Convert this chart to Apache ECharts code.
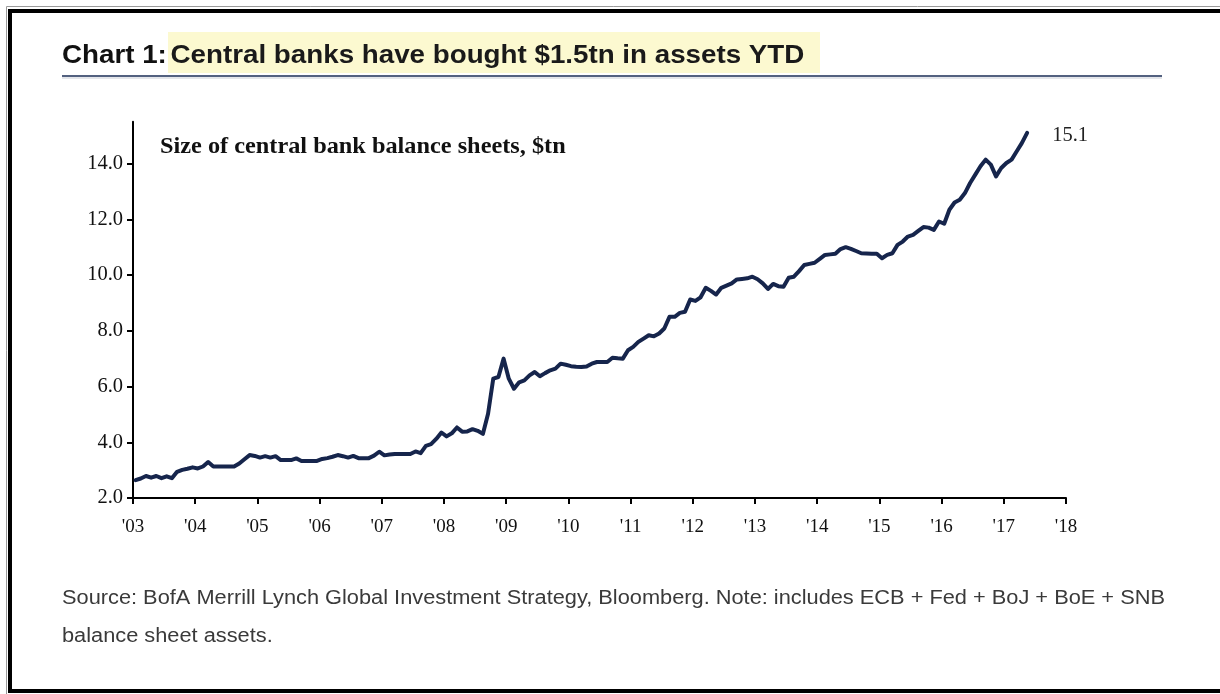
<!DOCTYPE html>
<html>
<head>
<meta charset="utf-8">
<script src="https://cdn.jsdelivr.net/npm/echarts@6/dist/echarts.min.js"></script>
<style>
html,body{margin:0;padding:0;background:#fff;}
#chart{width:1220px;height:694px;}
</style>
</head>
<body>
<div id="chart"></div>
<script>
// ---- data ----
const startYear = 2003; // first monthly observation: Jan 2003
const balanceSheet = [
  2.64, 2.70, 2.79, 2.73, 2.79, 2.71, 2.78, 2.71, 2.94, 3.01, 3.05, 3.10,
  3.06, 3.13, 3.29, 3.13, 3.13, 3.13, 3.13, 3.13, 3.24, 3.39, 3.54, 3.51,
  3.45, 3.50, 3.45, 3.50, 3.36, 3.36, 3.36, 3.42, 3.33, 3.33, 3.33, 3.33,
  3.40, 3.43, 3.48, 3.54, 3.50, 3.45, 3.51, 3.43, 3.43, 3.43, 3.52, 3.66,
  3.53, 3.56, 3.58, 3.58, 3.58, 3.58, 3.67, 3.61, 3.87, 3.93, 4.12, 4.35,
  4.21, 4.32, 4.53, 4.38, 4.39, 4.47, 4.41, 4.30, 5.02, 6.28, 6.34, 7.00,
  6.28, 5.92, 6.15, 6.22, 6.40, 6.52, 6.37, 6.48, 6.58, 6.64, 6.82, 6.78,
  6.73, 6.71, 6.70, 6.72, 6.82, 6.88, 6.88, 6.88, 7.03, 7.01, 7.00, 7.30,
  7.42, 7.60, 7.72, 7.84, 7.80, 7.90, 8.08, 8.50, 8.50, 8.64, 8.68, 9.12,
  9.07, 9.20, 9.54, 9.43, 9.30, 9.54, 9.62, 9.70, 9.84, 9.86, 9.88, 9.94,
  9.85, 9.70, 9.50, 9.68, 9.60, 9.58, 9.90, 9.94, 10.14, 10.36, 10.40, 10.44,
  10.58, 10.72, 10.74, 10.76, 10.93, 11.00, 10.94, 10.86, 10.78, 10.77, 10.76, 10.76,
  10.60, 10.72, 10.78, 11.08, 11.20, 11.38, 11.44, 11.58, 11.72, 11.70, 11.62, 11.92,
  11.84, 12.34, 12.60, 12.70, 12.94, 13.30, 13.60, 13.90, 14.14, 13.96, 13.54, 13.84,
  14.02, 14.14, 14.44, 14.74, 15.10
];
const xTickLabels = ["'03","'04","'05","'06","'07","'08","'09","'10","'11","'12","'13","'14","'15","'16","'17","'18"];
const yTickValues = [2, 4, 6, 8, 10, 12, 14];

const titleLead = 'Chart 1:';
const titleMain = 'Central banks have bought $1.5tn in assets YTD';
const subTitle = 'Size of central bank balance sheets, $tn';
const sourceLine1 = 'Source: BofA Merrill Lynch Global Investment Strategy, Bloomberg. Note: includes ECB + Fed + BoJ + BoE + SNB';
const sourceLine2 = 'balance sheet assets.';

// ---- chart ----
const seriesData = balanceSheet.map((v, i) => [startYear + (i + 0.5) / 12, v]);
const serif = '"Liberation Serif", "Times New Roman", serif';
const sans = '"Liberation Sans", Arial, sans-serif';

const chart = echarts.init(document.getElementById('chart'), null, {renderer: 'canvas'});
chart.setOption({
  animation: false,
  backgroundColor: '#ffffff',
  grid: {left: 133, right: 154, top: 121.7, bottom: 196, containLabel: false},
  xAxis: {
    type: 'value',
    min: 2003, max: 2018, interval: 1,
    axisLine: {show: true, onZero: false, lineStyle: {color: '#000', width: 2}},
    axisTick: {show: true, inside: false, length: 6, lineStyle: {color: '#000', width: 2}},
    axisLabel: {
      margin: 20, color: '#111', fontFamily: serif, fontSize: 19,
      formatter: v => xTickLabels[Math.round(v - startYear)] || ''
    },
    splitLine: {show: false}
  },
  yAxis: {
    type: 'value',
    min: 2, max: 15.5,
    axisLine: {show: true, lineStyle: {color: '#000', width: 2}},
    axisTick: {show: true, inside: false, length: 6, customValues: yTickValues, lineStyle: {color: '#000', width: 2}},
    axisLabel: {
      margin: 10, color: '#111', fontFamily: serif, fontSize: 20.5,
      customValues: yTickValues,
      formatter: v => v.toFixed(1)
    },
    splitLine: {show: false}
  },
  series: [{
    type: 'line',
    data: seriesData,
    showSymbol: false,
    symbol: 'none',
    lineStyle: {color: '#16254c', width: 4, join: 'round', cap: 'round'},
    endLabel: {
      show: true,
      distance: 25,
      offset: [0, 3],
      color: '#222',
      fontFamily: serif,
      fontSize: 20.5,
      formatter: p => p.value[1].toFixed(1)
    }
  }],
  graphic: [
    // outer frame
    {type: 'rect', silent: true, z: 0, shape: {x: 6.5, y: 6.5, width: 1400, height: 700}, style: {fill: 'none', stroke: '#9a9a9a', lineWidth: 1}},
    {type: 'rect', silent: true, z: 0, shape: {x: 10, y: 11, width: 1400, height: 680}, style: {fill: 'none', stroke: '#000', lineWidth: 4}},
    // title highlight
    {type: 'rect', silent: true, z: 1, shape: {x: 168, y: 32, width: 652, height: 41}, style: {fill: '#fcf9d0'}},
    // title
    {type: 'text', silent: true, z: 2, x: 62, y: 56.5, scaleX: 1.11, style: {
      text: '{a|' + titleLead + '} {b|' + titleMain + '}',
      verticalAlign: 'middle',
      rich: {
        a: {fontFamily: sans, fontWeight: 'bold', fontSize: 25, fill: '#111'},
        b: {fontFamily: sans, fontWeight: 'bold', fontSize: 25, fill: '#1a1a1a'}
      }
    }},
    // title underline
    {type: 'line', silent: true, z: 2, shape: {x1: 62, y1: 76, x2: 1162, y2: 76}, style: {stroke: '#53617f', lineWidth: 2}},
    {type: 'line', silent: true, z: 2, shape: {x1: 62, y1: 78, x2: 1162, y2: 78}, style: {stroke: '#c9cdd6', lineWidth: 1}},
    // subtitle inside plot
    {type: 'text', silent: true, z: 3, x: 160, y: 147, scaleX: 1.08, style: {
      text: subTitle, fontFamily: serif, fontWeight: 'bold', fontSize: 22.5, fill: '#111', verticalAlign: 'middle'
    }},
    // source
    {type: 'text', silent: true, z: 3, x: 62, y: 599, scaleX: 1.117, style: {
      text: sourceLine1, fontFamily: sans, fontSize: 19.5, fill: '#3a3a3a', verticalAlign: 'middle'
    }},
    {type: 'text', silent: true, z: 3, x: 62, y: 637, scaleX: 1.117, style: {
      text: sourceLine2, fontFamily: sans, fontSize: 19.5, fill: '#3a3a3a', verticalAlign: 'middle'
    }}
  ]
});
</script>
</body>
</html>
